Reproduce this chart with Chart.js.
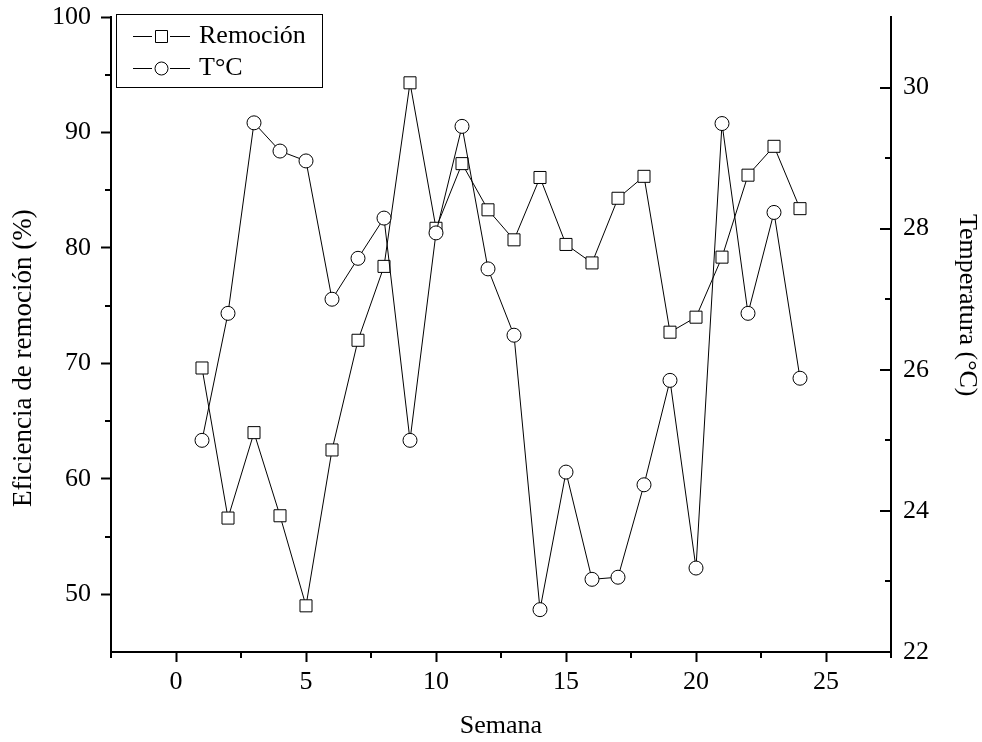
<!DOCTYPE html>
<html>
<head>
<meta charset="utf-8">
<title>Eficiencia de remoción y temperatura</title>
<script src="https://cdn.jsdelivr.net/npm/chart.js@4.4.1/dist/chart.umd.min.js"></script>
<style>
	body { margin: 0; background: #fff; }
	#mycanvas { display: block; }
</style>
</head>
<body>
<canvas id="mycanvas" width="982" height="742"></canvas>
<script>
// datos
var semanas = [1, 2, 3, 4, 5, 6, 7, 8, 9, 10, 11, 12, 13, 14, 15, 16, 17, 18, 19, 20, 21, 22, 23, 24];
var remocion = [69.6, 56.6, 64.0, 56.8, 49.0, 62.5, 72.0, 78.4, 94.3, 81.7, 87.3, 83.3, 80.7, 86.1, 80.3, 78.7, 84.3, 86.2, 72.7, 74.0, 79.2, 86.3, 88.8, 83.4];
var temperatura = [25.0, 26.8, 29.5, 29.1, 28.96, 27.0, 27.58, 28.15, 25.0, 27.94, 29.45, 27.43, 26.49, 22.6, 24.55, 23.03, 23.06, 24.37, 25.85, 23.19, 29.49, 26.8, 28.23, 25.88];

var xTicks = [0, 5, 10, 15, 20, 25];
var xMinor = [-2.5, 2.5, 7.5, 12.5, 17.5, 22.5, 27.5];
var yTicks = [50, 60, 70, 80, 90, 100];
var yMinor = [55, 65, 75, 85, 95];
var tTicks = [22, 24, 26, 28, 30];
var tMinor = [23, 25, 27, 29];

var familia = '"Liberation Serif", "Times New Roman", serif';
var fuente = {family: familia, size: 26};

function puntos(valores) {
	var out = [];
	for (var i in semanas) {
		out.push({x: semanas[i], y: valores[i]});
	}
	return out;
}

function fijarTicks(lista) {
	return function(scale) {
		scale.ticks = lista.map(function(v) { return {value: v}; });
	};
}

// muestra de leyenda: linea - marcador - linea
function muestra(tipo) {
	var c = document.createElement('canvas');
	c.width = 79;
	c.height = 20;
	var g = c.getContext('2d');
	g.strokeStyle = '#000';
	g.lineWidth = 1;
	g.beginPath();
	g.moveTo(21, 10.5); g.lineTo(40, 10.5);
	g.moveTo(58, 10.5); g.lineTo(78, 10.5);
	g.stroke();
	g.fillStyle = '#fff';
	g.beginPath();
	if (tipo == 'rect') {
		g.rect(43.5, 4.5, 12, 12);
	} else {
		g.arc(49.5, 10.5, 6.5, 0, Math.PI * 2);
	}
	g.fill();
	g.stroke();
	return c;
}

// ticks menores, ticks interiores del eje derecho y marco de la leyenda
var ejesOrigin = {
	id: 'ejesOrigin',
	afterLayout: function(chart) {
		// la leyenda dentro del area empieza en y=0, se baja al borde superior del area
		var lg = chart.legend;
		var dy = chart.chartArea.top - lg.top;
		lg.top += dy;
		lg.bottom += dy;
		lg.legendHitBoxes.forEach(function(b) { b.top += dy; });
	},
	beforeDatasetsDraw: function(chart) {
		var ctx = chart.ctx;
		var a = chart.chartArea;
		var sx = chart.scales.x, sy = chart.scales.y, st = chart.scales.y1;
		ctx.save();
		ctx.strokeStyle = '#000';
		ctx.lineWidth = 2;
		ctx.beginPath();
		xMinor.forEach(function(v) {
			var p = Math.round(sx.getPixelForValue(v));
			ctx.moveTo(p, a.bottom); ctx.lineTo(p, a.bottom + 6);
		});
		yMinor.forEach(function(v) {
			var p = Math.round(sy.getPixelForValue(v));
			ctx.moveTo(a.left, p); ctx.lineTo(a.left - 6, p);
		});
		tTicks.forEach(function(v) {
			var p = Math.round(st.getPixelForValue(v));
			ctx.moveTo(a.right, p); ctx.lineTo(a.right - 11, p);
		});
		tMinor.forEach(function(v) {
			var p = Math.round(st.getPixelForValue(v));
			ctx.moveTo(a.right, p); ctx.lineTo(a.right - 6, p);
		});
		ctx.stroke();

		var cajas = chart.legend.legendHitBoxes;
		if (cajas && cajas.length) {
			var x0 = Math.round(cajas[0].left - 1.5), y0 = Math.round(cajas[0].top - 9.5);
			var x1 = 0, y1 = 0;
			cajas.forEach(function(b) {
				x1 = Math.max(x1, b.left + b.width);
				y1 = Math.max(y1, b.top + b.height);
			});
			x1 = Math.round(x1 + 16);
			y1 = Math.round(y1 + 6);
			ctx.lineWidth = 1;
			ctx.strokeRect(x0 + 0.5, y0 + 0.5, x1 - x0, y1 - y0);
		}
		ctx.restore();
	}
};

var chartdata = {
	datasets: [
		{
			label: 'Remoción',
			data: puntos(remocion),
			yAxisID: 'y',
			borderColor: '#000',
			borderWidth: 1,
			pointStyle: 'rect',
			pointRadius: 8.5,
			pointBackgroundColor: '#fff',
			pointBorderColor: '#000',
			pointBorderWidth: 1,
			order: 2
		},
		{
			label: 'T°C',
			data: puntos(temperatura),
			yAxisID: 'y1',
			borderColor: '#000',
			borderWidth: 1,
			pointStyle: 'circle',
			pointRadius: 7,
			pointBackgroundColor: '#fff',
			pointBorderColor: '#000',
			pointBorderWidth: 1,
			order: 1
		}
	]
};

var ctx = document.getElementById('mycanvas');

var grafico = new Chart(ctx, {
	type: 'line',
	data: chartdata,
	plugins: [ejesOrigin],
	options: {
		responsive: false,
		animation: false,
		devicePixelRatio: 1,
		layout: {padding: {top: 17, left: 0, right: 0, bottom: 0}},
		elements: {line: {tension: 0}},
		plugins: {
			tooltip: {enabled: false},
			legend: {
				position: 'chartArea',
				align: 'start',
				labels: {
					usePointStyle: true,
					pointStyleWidth: 69,
					padding: 6,
					color: '#000',
					font: fuente,
					generateLabels: function(chart) {
						return [
							{text: 'Remoción', pointStyle: muestra('rect'), fontColor: '#000', lineWidth: 0, datasetIndex: 0, hidden: false},
							{text: 'T°C', pointStyle: muestra('circle'), fontColor: '#000', lineWidth: 0, datasetIndex: 1, hidden: false}
						];
					}
				}
			}
		},
		scales: {
			x: {
				type: 'linear',
				position: 'bottom',
				min: -2.5,
				max: 27.5,
				afterBuildTicks: fijarTicks(xTicks),
				afterFit: function(s) { s.height = 90; s.paddingLeft = 0; s.paddingRight = 0; },
				grid: {drawOnChartArea: false, color: '#000', tickColor: '#000', tickLength: 10, tickWidth: 2},
				border: {color: '#000', width: 2},
				ticks: {font: fuente, color: '#000', padding: 5, maxRotation: 0, autoSkip: false},
				title: {display: true, text: 'Semana', font: fuente, color: '#000', padding: {top: 0, bottom: 0}}
			},
			y: {
				type: 'linear',
				position: 'left',
				min: 45,
				max: 100,
				afterBuildTicks: fijarTicks(yTicks),
				afterFit: function(s) { s.width = 111; s.paddingTop = 0; s.paddingBottom = 0; },
				grid: {drawOnChartArea: false, color: '#000', tickColor: '#000', tickLength: 10, tickWidth: 2},
				border: {color: '#000', width: 2},
				ticks: {font: fuente, color: '#000', padding: 10, autoSkip: false},
				title: {display: true, text: 'Eficiencia de remoción (%)\u00a0\u00a0\u00a0\u00a0\u00a0\u00a0\u00a0', font: {family: familia, size: 27}, color: '#000', padding: {top: 8, bottom: 0}}
			},
			y1: {
				type: 'linear',
				position: 'right',
				min: 22,
				max: 31,
				afterBuildTicks: fijarTicks(tTicks),
				afterFit: function(s) { s.width = 91; s.paddingTop = 0; s.paddingBottom = 0; },
				grid: {display: false, drawTicks: false, drawOnChartArea: false},
				border: {color: '#000', width: 2},
				ticks: {font: fuente, color: '#000', padding: 12, autoSkip: false},
				title: {display: true, text: 'Temperatura (°C)\u00a0\u00a0\u00a0\u00a0\u00a0\u00a0\u00a0\u00a0\u00a0', font: fuente, color: '#000', padding: {top: 0, bottom: 0}}
			}
		}
	}
});
</script>
</body>
</html>
